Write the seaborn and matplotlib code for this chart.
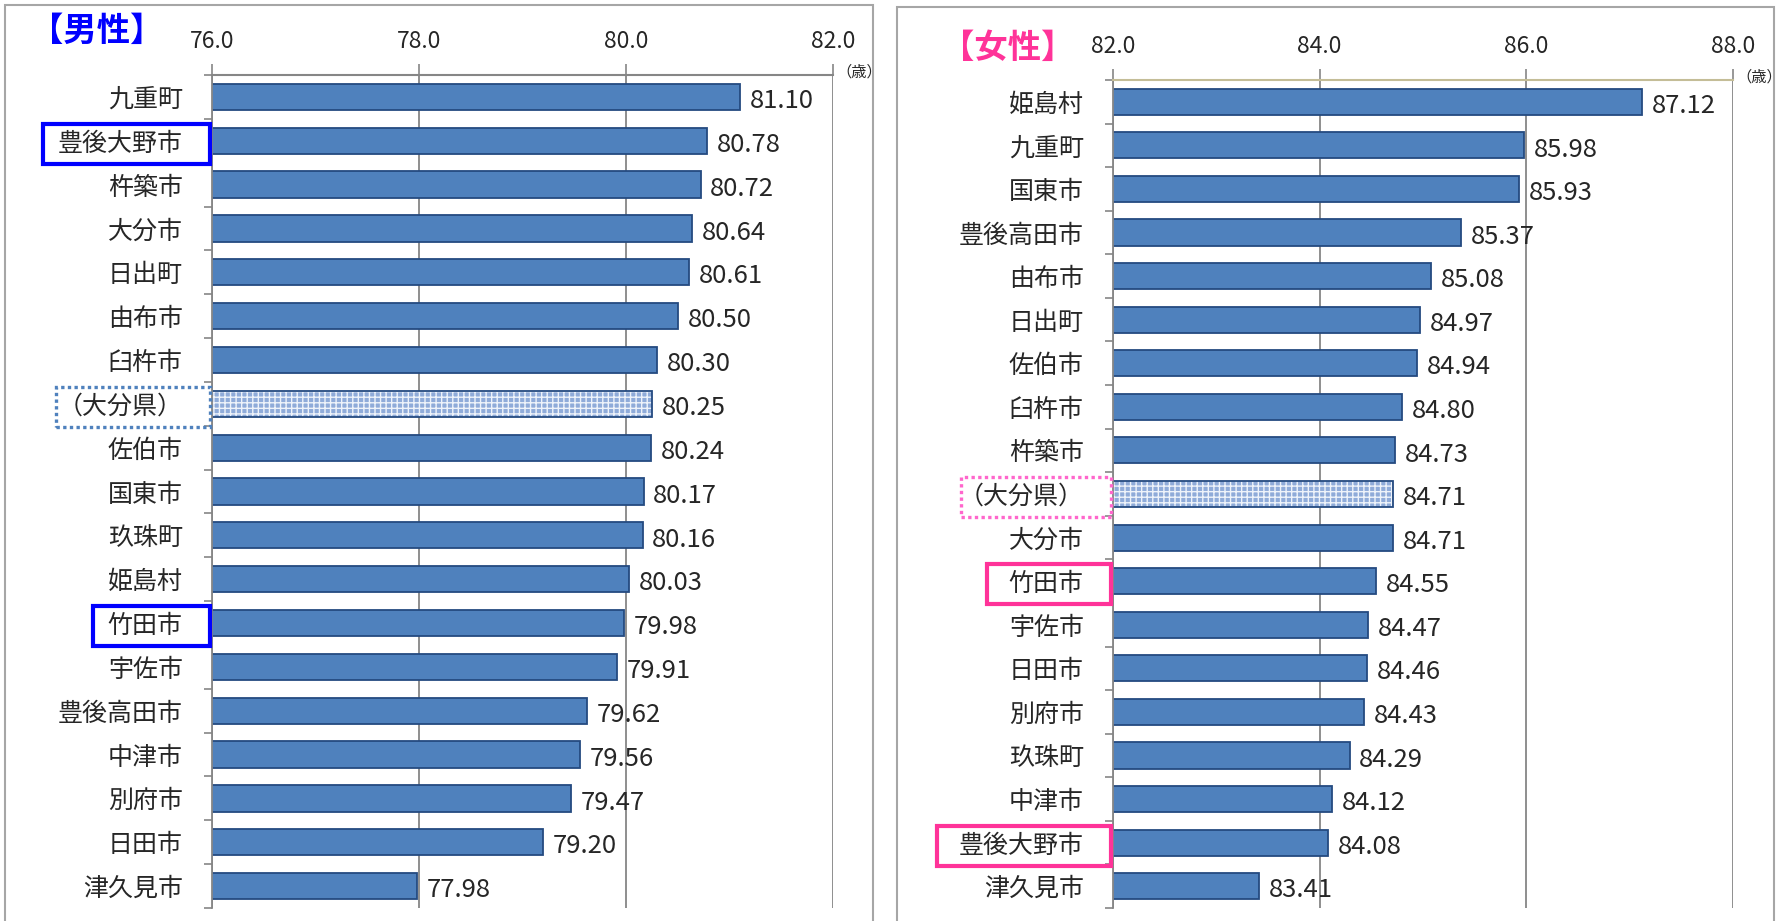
import numpy as np
import pandas as pd
import matplotlib
matplotlib.use("Agg")
import matplotlib.pyplot as plt
from matplotlib.patches import Rectangle
import seaborn as sns

# 平均寿命（歳） - 男性
male_names = ["九重町", "豊後大野市", "杵築市", "大分市", "日出町", "由布市", "臼杵市",
              "（大分県）", "佐伯市", "国東市", "玖珠町", "姫島村", "竹田市", "宇佐市",
              "豊後高田市", "中津市", "別府市", "日田市", "津久見市"]
male_values = [81.10, 80.78, 80.72, 80.64, 80.61, 80.50, 80.30, 80.25, 80.24, 80.17,
               80.16, 80.03, 79.98, 79.91, 79.62, 79.56, 79.47, 79.20, 77.98]
male_ticks = [76.0, 78.0, 80.0, 82.0]

# 平均寿命（歳） - 女性
female_names = ["姫島村", "九重町", "国東市", "豊後高田市", "由布市", "日出町", "佐伯市",
                "臼杵市", "杵築市", "（大分県）", "大分市", "竹田市", "宇佐市", "日田市",
                "別府市", "玖珠町", "中津市", "豊後大野市", "津久見市"]
female_values = [87.12, 85.98, 85.93, 85.37, 85.08, 84.97, 84.94, 84.80, 84.73, 84.71,
                 84.71, 84.55, 84.47, 84.46, 84.43, 84.29, 84.12, 84.08, 83.41]
female_ticks = [82.0, 84.0, 86.0, 88.0]

PREF = "（大分県）"
HIGHLIGHT = ["豊後大野市", "竹田市"]

BAR = "#4F81BD"
BAR_EDGE = "#244A80"
GRID = "#868686"

sns.set_theme(style="white")
plt.rcParams["font.family"] = ["Noto Sans CJK JP", "DejaVu Sans"]
plt.rcParams["hatch.linewidth"] = 1.0

W, H = 1781, 921
fig = plt.figure(figsize=(W / 100, H / 100), dpi=100)


def px_rect(x0, y0, x1, y1):
    """pixel box (top-left origin) -> figure fraction [l, b, w, h]"""
    return [x0 / W, 1 - y1 / H, (x1 - x0) / W, (y1 - y0) / H]


ax_m = fig.add_axes(px_rect(212, 75, 833, 908))
ax_f = fig.add_axes(px_rect(1113, 80, 1733, 908))


def draw_panel(ax, names, values, ticks, top_color):
    df = pd.DataFrame({"name": names, "value": values})
    sns.barplot(data=df, x="value", y="name", orient="h", color=BAR,
                saturation=1, width=0.6, edgecolor=BAR_EDGE, linewidth=1.3, ax=ax)

    # prefecture average bar: light hatched fill
    idx = names.index(PREF)
    p = ax.patches[idx]
    p.set_facecolor("#8FABD9")
    p.set_edgecolor("#EEF3FA")
    p.set_hatch("+++")
    p.set_linewidth(0)
    ax.add_patch(Rectangle(p.get_xy(), p.get_width(), p.get_height(),
                           fill=False, edgecolor=BAR_EDGE, lw=1.3, zorder=p.get_zorder() + 0.1))

    labels = ax.bar_label(ax.containers[0], fmt="%.2f", padding=7, fontsize=18.5)
    for t in labels:
        t.xyann = (7, -3)

    ax.set_xlim(ticks[0], ticks[-1])
    ax.set_xticks(ticks)
    ax.set_xticklabels([f"{t:.1f}" for t in ticks])
    ax.xaxis.tick_top()
    ax.tick_params(axis="x", which="major", top=True, bottom=False, length=8,
                   width=1.2, color=GRID, labelsize=16.5, pad=8)
    ax.set_yticks(np.arange(-0.5, len(names), 1), minor=True)
    ax.tick_params(axis="y", which="major", length=0, labelsize=18, pad=21)
    ax.tick_params(axis="y", which="minor", left=True, length=6, width=1.2,
                   color=GRID, direction="out")
    ax.grid(axis="x", color=GRID, lw=1.3)
    ax.set_axisbelow(True)
    ax.set_xlabel("")
    ax.set_ylabel("")

    for side in ["bottom", "right"]:
        ax.spines[side].set_visible(False)
    ax.spines["left"].set_color(GRID)
    ax.spines["left"].set_linewidth(1.3)
    ax.spines["top"].set_color(top_color)
    ax.spines["top"].set_linewidth(1.5)

    ax.text(1.005, 1.004, "（歳）", transform=ax.transAxes, fontsize=11,
            ha="left", va="center")


draw_panel(ax_m, male_names, male_values, male_ticks, GRID)
draw_panel(ax_f, female_names, female_values, female_ticks, "#C4BD97")

fig.text(30 / W, 1 - 31 / H, "【男性】", fontsize=24, fontweight="bold",
         color="#0000FF", ha="left", va="center")
fig.text(941 / W, 1 - 48 / H, "【女性】", fontsize=24, fontweight="bold",
         color="#FF3399", ha="left", va="center")

# outer frames around each panel
fig.patches.append(Rectangle((5 / W, -0.05), (873 - 5) / W, 1.05 - 5 / H,
                             transform=fig.transFigure, fill=False,
                             edgecolor="#A6A6A6", lw=1.5))
fig.patches.append(Rectangle((897 / W, -0.05), (1774 - 897) / W, 1.05 - 7 / H,
                             transform=fig.transFigure, fill=False,
                             edgecolor="#A6A6A6", lw=1.5))

# boxes around highlighted tick labels
fig.canvas.draw()
renderer = fig.canvas.get_renderer()


def box_labels(ax, names, solid_color, dot_color, lpad, pref_pad):
    ax_box = ax.get_window_extent(renderer)
    slot = ax_box.height / len(names)
    for lab in ax.get_yticklabels():
        name = lab.get_text()
        if name not in HIGHLIGHT and name != PREF:
            continue
        bb = lab.get_window_extent(renderer)
        cy = (bb.y0 + bb.y1) / 2
        x1 = ax_box.x0 - 2
        y0 = cy - slot * 0.46
        y1 = cy + slot * 0.46
        if name == PREF:
            x0 = bb.x0 - pref_pad
            kw = dict(edgecolor=dot_color, lw=2.4, linestyle=(0, (1, 1)))
        else:
            x0 = bb.x0 - lpad
            kw = dict(edgecolor=solid_color, lw=3)
        fig.patches.append(Rectangle((x0 / W, y0 / H), (x1 - x0) / W, (y1 - y0) / H,
                                     transform=fig.transFigure, fill=False, **kw))


box_labels(ax_m, male_names, "#0000FF", "#4F81BD", 15, 2)
box_labels(ax_f, female_names, "#FF3399", "#FF66CC", 22, -2)

fig.savefig("out.png", dpi=100)
